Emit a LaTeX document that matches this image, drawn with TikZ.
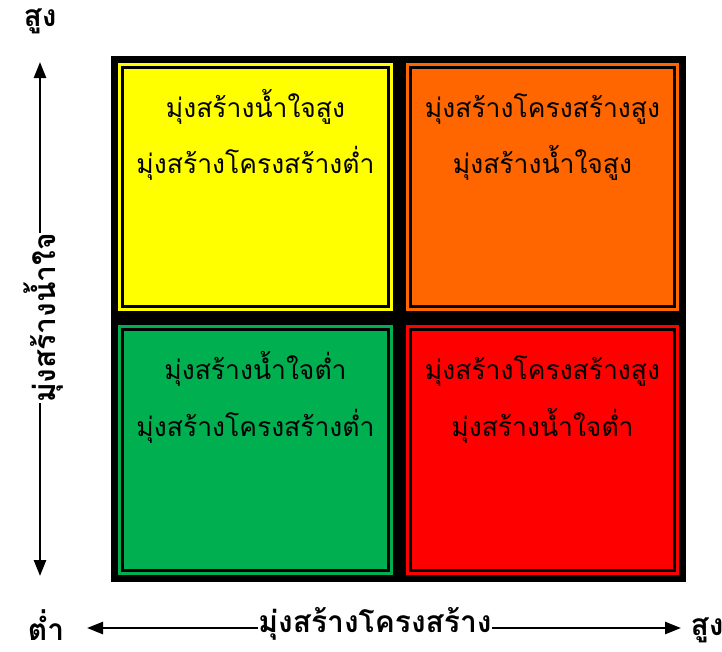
\documentclass[tikz,border=0pt]{standalone}
\usepackage{fontspec}
\usetikzlibrary{arrows.meta}
\newfontfamily\thaifont[Script=Thai]{Loma}
\definecolor{cellyellow}{RGB}{255,255,0}
\definecolor{cellorange}{RGB}{255,102,0}
\definecolor{cellgreen}{RGB}{0,176,80}
\definecolor{cellred}{RGB}{255,0,0}
\begin{document}
\begin{tikzpicture}[x=1pt,y=-1pt,
  celltext/.style={font=\thaifont\fontsize{26.5}{30}\selectfont, inner sep=0pt, anchor=base},
  axislabel/.style={font=\thaifont\bfseries\fontsize{30}{34}\selectfont, inner sep=0pt},
  axisarrow/.style={line width=2.5pt, -{Triangle[length=16pt,width=12pt]}},
  innerline/.style={draw=black, line width=2.6pt}]
\useasboundingbox (0,0) rectangle (722,651);

% outer black frame and cell separators
\fill[black] (111,56) rectangle (686,582);

% the four quadrants: colour band, thin inner black line
\fill[cellyellow] (118,63) rectangle (393,311);
\draw[innerline] (122.5,67.5) rectangle (388.5,306.5);
\fill[cellorange] (406,63) rectangle (679,311);
\draw[innerline] (410.5,67.5) rectangle (674.5,306.5);
\fill[cellgreen] (118,325) rectangle (393,575);
\draw[innerline] (122.5,329.5) rectangle (388.5,570.5);
\fill[cellred] (406,325) rectangle (679,575);
\draw[innerline] (410.5,329.5) rectangle (674.5,570.5);

% quadrant texts
\node[celltext] (tl1) at (255.5,117) {มุ่งสร้างน้ำใจสูง};
\node[celltext] (tl2) at (255.5,173) {มุ่งสร้างโครงสร้างต่ำ};
\node[celltext] (tr1) at (542.5,117) {มุ่งสร้างโครงสร้างสูง};
\node[celltext] (tr2) at (542.5,173) {มุ่งสร้างน้ำใจสูง};
\node[celltext] (bl1) at (255.5,379) {มุ่งสร้างน้ำใจต่ำ};
\node[celltext] (bl2) at (255.5,436) {มุ่งสร้างโครงสร้างต่ำ};
\node[celltext] (br1) at (542.5,379) {มุ่งสร้างโครงสร้างสูง};
\node[celltext] (br2) at (542.5,436) {มุ่งสร้างน้ำใจต่ำ};

% vertical axis
\node[axislabel] (yhigh) at (40,21) {สูง};
\node[axislabel, rotate=90] (ylab) at (44,318) {มุ่งสร้างน้ำใจ};
\coordinate (ytop) at (40,62);
\coordinate (ybot) at (40,576);
\draw[axisarrow] (ylab.east -| ytop) -- (ytop);
\draw[axisarrow] (ylab.west -| ybot) -- (ybot);

% horizontal axis
\node[axislabel] (xlow) at (46,625) {ต่ำ};
\node[axislabel] (xhigh) at (707,630) {สูง};
\node[axislabel] (xlab) at (375,624) {มุ่งสร้างโครงสร้าง};
\coordinate (xleft) at (87,628);
\coordinate (xright) at (681,628);
\draw[axisarrow] (xlab.west |- xleft) -- (xleft);
\draw[axisarrow] (xlab.east |- xright) -- (xright);
\end{tikzpicture}
\end{document}
